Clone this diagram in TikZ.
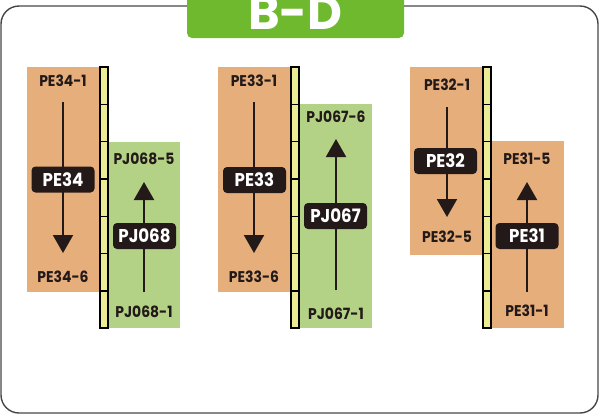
\documentclass[tikz,border=0pt]{standalone}
\usepackage{xcolor}
\usepackage{fontspec}
\setmainfont{Poppins}
\newfontfamily\labelfont{Poppins}[FakeStretch=0.9]
\usepackage{tikz}
\usetikzlibrary{arrows.meta}
\definecolor{titlegreen}{RGB}{110, 185, 45}
\definecolor{pecolor}{RGB}{230, 174, 122}
\definecolor{pjcolor}{RGB}{179, 210, 134}
\definecolor{barcolor}{RGB}{236, 236, 150}
\definecolor{inkcolor}{RGB}{35, 25, 25}
\definecolor{framegray}{RGB}{70, 70, 70}

\begin{document}
\begin{tikzpicture}[x=1pt, y=-1pt,
        endlabel/.style={text=inkcolor, inner sep=0pt, font=\labelfont\bfseries\fontsize{15.5}{15.5}\selectfont},
        namebox/.style={fill=inkcolor, text=white, rounded corners=4pt, inner sep=0pt, minimum width=63pt, minimum height=26pt, font=\labelfont\bfseries\fontsize{18.5}{18.5}\selectfont},
        flow/.style={-{Triangle[width=20pt, length=18pt]}, line width=2pt, inkcolor}]
        \useasboundingbox (0,0) rectangle (599,416);
        \clip (0,0) rectangle (599,416);

        % Outer frame and title tab
        \draw[framegray, line width=1.4pt, rounded corners=18pt] (1,6) rectangle (598,413);
        \fill[titlegreen, rounded corners=5pt] (187,-12) rectangle (404,38);
        \node[anchor=base, text=white, inner sep=0pt, font=\bfseries\fontsize{48}{48}\selectfont] (title) at (295.5,29) {B-D};

        % Coloured zones
        \fill[pecolor] (27,67) rectangle (100,292);
        \fill[pjcolor] (108,142) rectangle (180,328);
        \fill[pecolor] (218,67) rectangle (291,292);
        \fill[pjcolor] (299,104) rectangle (372,328);
        \fill[pecolor] (410,67) rectangle (483,255);
        \fill[pecolor] (491,141) rectangle (564,328);

        % Yellow bars
        \foreach \bx in {100, 291, 483} {
            \foreach \i in {0,...,6} {
                \draw[fill=barcolor, line width=1.4pt] ({\bx},{67+\i*37.3}) rectangle ({\bx+8},{67+(\i+1)*37.3});
            }
        }

        % End labels
        \node[endlabel] (pe34top) at (63,81) {PE34-1};
        \node[endlabel] (pe34bot) at (63,277) {PE34-6};
        \node[endlabel] (pj068top) at (144,159) {PJ068-5};
        \node[endlabel] (pj068bot) at (144,312) {PJ068-1};
        \node[endlabel] (pe33top) at (254,81) {PE33-1};
        \node[endlabel] (pe33bot) at (254,277) {PE33-6};
        \node[endlabel] (pj067top) at (336,117) {PJ067-6};
        \node[endlabel] (pj067bot) at (336,314) {PJ067-1};
        \node[endlabel] (pe32top) at (447,85) {PE32-1};
        \node[endlabel] (pe32bot) at (447,237) {PE32-5};
        \node[endlabel] (pe31top) at (527,159) {PE31-5};
        \node[endlabel] (pe31bot) at (527,311) {PE31-1};

        % Arrow ends
        \coordinate (pe34a) at (63,102);
        \coordinate (pe34b) at (63,253);
        \coordinate (pj068a) at (144,292);
        \coordinate (pj068b) at (144,182);
        \coordinate (pe33a) at (254,102);
        \coordinate (pe33b) at (254,253);
        \coordinate (pj067a) at (336,290);
        \coordinate (pj067b) at (336,139);
        \coordinate (pe32a) at (447,107);
        \coordinate (pe32b) at (447,217);
        \coordinate (pe31a) at (527,292);
        \coordinate (pe31b) at (527,182);

        % Arrows
        \draw[flow] (pe34a) -- (pe34b);
        \draw[flow] (pj068a) -- (pj068b);
        \draw[flow] (pe33a) -- (pe33b);
        \draw[flow] (pj067a) -- (pj067b);
        \draw[flow] (pe32a) -- (pe32b);
        \draw[flow] (pe31a) -- (pe31b);

        % Name boxes
        \node[namebox] (pe34) at (63,179.5) {PE34};
        \node[namebox] (pj068) at (144.5,236) {PJ068};
        \node[namebox] (pe33) at (254.5,180) {PE33};
        \node[namebox] (pj067) at (335.5,216) {PJ067};
        \node[namebox] (pe32) at (445.5,161) {PE32};
        \node[namebox] (pe31) at (527,236) {PE31};
    \end{tikzpicture}
\end{document}
